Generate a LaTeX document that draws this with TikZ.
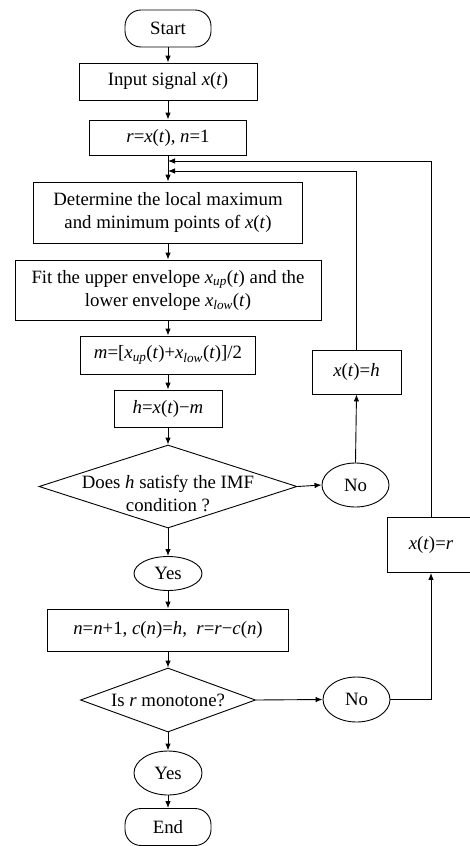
\documentclass[tikz,border=0pt]{standalone}
\usepackage{fontspec}
\setmainfont{Liberation Serif}
\usetikzlibrary{arrows.meta,shapes.geometric,positioning,calc}
\newcommand{\vv}[1]{\textit{#1}}

\begin{document}
\begin{tikzpicture}[x=10pt,y=-10pt,
          every node/.style={font=\fontsize{18.8}{23}\selectfont},
          term/.style={draw,line width=0.9pt,rounded corners=16pt,
                       minimum width=86pt,minimum height=37pt,inner sep=0pt},
          proc/.style={draw,line width=0.9pt,minimum height=37pt,
                       inner sep=0pt,align=center},
          dec/.style={draw,diamond,line width=0.9pt,inner sep=0pt},
          oval/.style={draw,ellipse,line width=0.9pt,inner sep=0pt,
                       minimum width=68pt,minimum height=44pt},
          flow/.style={line width=0.9pt,-{Latex[length=7pt,width=5.5pt]}},
        ]
        \useasboundingbox (0,0) rectangle (46.9,84.6);
        % Coluna principal
        \node[term] (start) at (16.8,2.85) {Start};
        \node[proc,minimum width=178pt] (input) at (16.8,8.15) {Input signal \vv{x}(\vv{t})};
        \node[proc,minimum width=157pt,minimum height=35pt] (init) at (16.8,13.75)
              {\vv{r}=\vv{x}(\vv{t}), \vv{n}=1};
        \coordinate (j2) at (16.8,16.1);
        \coordinate (j1) at (16.8,17.1);
        \node[proc,minimum width=269pt,minimum height=61pt] (determ) at (16.8,21.25)
              {Determine the local maximum\\and minimum points of \vv{x}(\vv{t})};
        \node[proc,minimum width=306pt,minimum height=60pt] (fit) at (16.8,29.0)
              {Fit the upper envelope \vv{x}\textsubscript{\vv{up}}(\vv{t}) and the\\
               lower envelope \vv{x}\textsubscript{\vv{low}}(\vv{t})};
        \node[proc,minimum width=175pt,minimum height=38pt] (mean) at (16.8,35.5)
              {\vv{m}=[\vv{x}\textsubscript{\vv{up}}(\vv{t})+\vv{x}\textsubscript{\vv{low}}(\vv{t})]/2};
        \node[proc,minimum width=108pt] (hbox) at (16.8,40.85) {\vv{h}=\vv{x}(\vv{t})−\vv{m}};
        \node[dec,minimum width=258pt,minimum height=83pt,
              label={[align=center,yshift=-7pt]center:Does \vv{h} satisfy the IMF\\condition ?}]
              (imf) at (16.8,48.65) {};
        \node[oval,minimum height=34pt] (yes1) at (16.8,57.35) {Yes};
        \node[proc,minimum width=241pt,minimum height=42pt] (update) at (16.8,63.0)
              {\vv{n}=\vv{n}+1, \vv{c}(\vv{n})=\vv{h}, \ \vv{r}=\vv{r}−\vv{c}(\vv{n})};
        \node[dec,minimum width=175pt,minimum height=64pt,
              label={center:Is \vv{r} monotone?}] (mono) at (16.8,70.0) {};
        \node[oval] (yes2) at (16.8,77.3) {Yes};
        \node[term] (end) at (16.8,82.7) {End};

        % Ramos "No"
        \node[oval,minimum width=67pt] (no1) at (35.55,48.5) {No};
        \node[proc,minimum width=89pt,minimum height=44pt] (xh) at (35.65,37.2)
              {\vv{x}(\vv{t})=\vv{h}};
        \node[oval,minimum width=67pt,minimum height=45pt] (no2) at (35.65,69.95) {No};
        \node[proc,minimum width=88pt,minimum height=55pt] (xr) at (43.1,54.5)
              {\vv{x}(\vv{t})=\vv{r}};

        % Setas
        \foreach \a/\b in {start/input,input/init,determ/fit,fit/mean,mean/hbox,
                           hbox/imf,imf/yes1,yes1/update,update/mono,mono/yes2,yes2/end}{
          \draw[flow] (\a)--(\b);
        }
        \draw[flow] (init)--(determ);
        \draw[flow] (imf.east)--(no1.west);
        \draw[flow] (no1.north)--(xh.south);
        \draw[flow] (xh.north) |- (j1);
        \draw[flow] (mono.east)--(no2.west);
        \draw[flow] (no2.east) -| (xr.south);
        \draw[flow] (xr.north) |- (j2);
      \end{tikzpicture}
\end{document}
